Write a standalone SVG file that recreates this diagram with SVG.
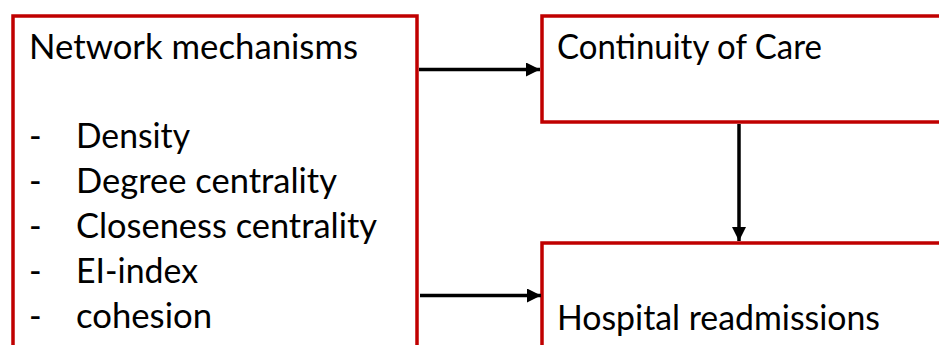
<svg xmlns="http://www.w3.org/2000/svg" width="939" height="345" viewBox="0 0 939 345">
<style>
.box{fill:#fff;stroke:#C00000;stroke-width:3.5}
.t{font-family:Lato,"Liberation Sans",Arial,sans-serif;font-size:34px;fill:#000}
.c{stroke:#000;stroke-width:3.5;fill:none}
</style>
<defs>
<marker id="ah" viewBox="0 0 10 10" refX="10" refY="5" markerWidth="4" markerHeight="4" orient="auto" markerUnits="strokeWidth">
<path d="M0,0 L10,5 L0,10 z" fill="#000"/>
</marker>
</defs>
<rect width="939" height="345" fill="#fff"/>
<g id="node-network">
<rect class="box" x="13" y="16" width="404" height="340"/>
<text class="t" x="29" y="59" textLength="329" lengthAdjust="spacingAndGlyphs">Network mechanisms</text>
<text class="t" x="29" y="148">-</text><text class="t" x="76" y="148" textLength="114" lengthAdjust="spacingAndGlyphs">Density</text>
<text class="t" x="29" y="193">-</text><text class="t" x="76" y="193" textLength="261" lengthAdjust="spacingAndGlyphs">Degree centrality</text>
<text class="t" x="29" y="238">-</text><text class="t" x="76" y="238" textLength="301" lengthAdjust="spacingAndGlyphs">Closeness centrality</text>
<text class="t" x="29" y="283">-</text><text class="t" x="76" y="283" textLength="122" lengthAdjust="spacingAndGlyphs">EI-index</text>
<text class="t" x="29" y="328">-</text><text class="t" x="76" y="328" textLength="136" lengthAdjust="spacingAndGlyphs">cohesion</text>
</g>
<g id="node-continuity">
<rect class="box" x="542" y="16" width="410" height="106"/>
<text class="t" x="557" y="59" textLength="265" lengthAdjust="spacingAndGlyphs">Continuity of Care</text>
</g>
<g id="node-readmissions">
<rect class="box" x="542" y="243" width="410" height="120"/>
<text class="t" x="557" y="330" textLength="323" lengthAdjust="spacingAndGlyphs">Hospital readmissions</text>
</g>
<g id="connectors">
<line class="c" x1="419" y1="69.5" x2="540" y2="69.5" marker-end="url(#ah)"/>
<line class="c" x1="420" y1="295.5" x2="541" y2="295.5" marker-end="url(#ah)"/>
<line class="c" x1="739" y1="124" x2="739" y2="241" marker-end="url(#ah)"/>
</g>
</svg>
